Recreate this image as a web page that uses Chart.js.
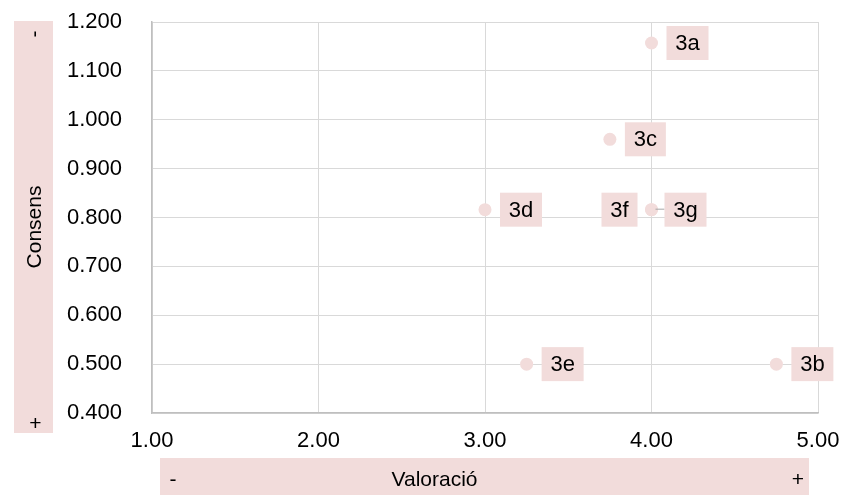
<!DOCTYPE html>
<html>
<head>
<meta charset="utf-8">
<script src="https://cdn.jsdelivr.net/npm/chart.js@4.4.1/dist/chart.umd.min.js"></script>
<style>
  html, body { margin: 0; padding: 0; background: #fff; }
  #wrap { width: 846px; height: 495px; }
</style>
</head>
<body>
<div id="wrap"><canvas id="chart" width="846" height="495"></canvas></div>
<script>
const labels = ['3a', '3b', '3c', '3d', '3e', '3f', '3g'];
const valoracio = [4.00, 4.75, 3.75, 3.00, 3.25, 4.00, 4.00];
const consens = [1.157, 0.500, 0.960, 0.816, 0.500, 0.816, 0.816];
const xTicks = [1, 2, 3, 4, 5];
const yTicks = [0.4, 0.5, 0.6, 0.7, 0.8, 0.9, 1.0, 1.1, 1.2];

const PINK = '#f2dcdb';
const FONT = '"Liberation Sans", Arial, sans-serif';
const FS = 22;
const TITLE_FS = 21;

// Excel moved 3f to the left of its point so it doesn't sit on 3g
const leftLabels = ['3f'];
const leaderLabels = ['3g'];

const axisTitles = {
  id: 'axisTitles',
  beforeDraw(chart) {
    const { ctx, chartArea: a } = chart;
    ctx.save();
    ctx.fillStyle = PINK;
    const yb = { x: 14, y: a.top - 1, w: 39, h: a.bottom + 20 - (a.top - 1) };
    ctx.fillRect(yb.x, yb.y, yb.w, yb.h);
    const xb = { x: a.left + 8, y: a.bottom + 45, w: a.right - 9 - (a.left + 8), h: chart.height - (a.bottom + 45) };
    ctx.fillRect(xb.x, xb.y, xb.w, xb.h);

    ctx.fillStyle = '#000';
    ctx.font = `${TITLE_FS}px ${FONT}`;
    ctx.textBaseline = 'middle';
    ctx.textAlign = 'center';
    const xcy = xb.y + xb.h / 2 + 4;
    ctx.fillText('-', xb.x + 13, xcy);
    ctx.fillText('Valoració', xb.x + xb.w / 2 - 50, xcy);
    ctx.fillText('+', xb.x + xb.w - 11, xcy);

    const ycx = yb.x + yb.w / 2 + 2;
    const rot = (txt, cy) => {
      ctx.save();
      ctx.translate(ycx, cy);
      ctx.rotate(-Math.PI / 2);
      ctx.fillText(txt, 0, 0);
      ctx.restore();
    };
    rot('-', yb.y + 13);
    rot('Consens', yb.y + yb.h / 2);
    ctx.fillText('+', ycx, yb.y + yb.h - 9);
    ctx.restore();
  }
};

const pointLabels = {
  id: 'pointLabels',
  afterDatasetsDraw(chart) {
    const { ctx } = chart;
    const meta = chart.getDatasetMeta(0);
    ctx.save();
    ctx.font = `${FS}px ${FONT}`;
    ctx.textBaseline = 'middle';
    ctx.textAlign = 'center';
    meta.data.forEach((pt, i) => {
      const txt = labels[i];
      const w = Math.round(ctx.measureText(txt).width) + 18;
      const h = 34;
      const left = leftLabels.includes(txt);
      const lead = leaderLabels.includes(txt);
      const gap = lead ? 13 : 15;
      const bx = left ? pt.x - gap - w + 1 : pt.x + gap;
      const by = pt.y - h / 2;
      if (lead) {
        ctx.strokeStyle = '#a6a6a6';
        ctx.lineWidth = 1;
        ctx.beginPath();
        ctx.moveTo(pt.x + 4, pt.y - 0.5);
        ctx.lineTo(bx, pt.y - 0.5);
        ctx.stroke();
      }
      ctx.fillStyle = PINK;
      ctx.fillRect(bx, by, w, h);
      ctx.fillStyle = '#000';
      ctx.fillText(txt, bx + w / 2, by + h / 2 + 1);
    });
    ctx.restore();
  }
};

new Chart(document.getElementById('chart'), {
  type: 'scatter',
  data: {
    datasets: [{
      data: labels.map((l, i) => ({ x: valoracio[i], y: consens[i] })),
      backgroundColor: PINK,
      borderWidth: 0,
      pointRadius: 6.5,
      pointHoverRadius: 6.5
    }]
  },
  options: {
    responsive: false,
    animation: false,
    layout: { padding: { left: 0, right: 28, top: 22, bottom: 0 } },
    plugins: { legend: { display: false }, tooltip: { enabled: false } },
    scales: {
      x: {
        type: 'linear',
        min: 1,
        max: 5,
        afterBuildTicks: (s) => { s.ticks = xTicks.map((v) => ({ value: v })); },
        afterFit: (s) => { s.height = 82; s.paddingLeft = 0; s.paddingRight = 0; },
        grid: { color: '#d9d9d9', lineWidth: 1, drawTicks: false },
        border: { color: '#bfbfbf', width: 1.5 },
        ticks: {
          padding: 15,
          color: '#000',
          font: { family: FONT, size: FS },
          callback: (v) => Number(v).toFixed(2)
        }
      },
      y: {
        type: 'linear',
        min: 0.4,
        max: 1.2,
        afterBuildTicks: (s) => { s.ticks = yTicks.map((v) => ({ value: v })); },
        afterFit: (s) => { s.width = 152; s.paddingTop = 0; s.paddingBottom = 0; },
        grid: { color: '#d9d9d9', lineWidth: 1, drawTicks: false },
        border: { color: '#bfbfbf', width: 1.5 },
        ticks: {
          padding: 30,
          color: '#000',
          font: { family: FONT, size: FS },
          callback: (v) => Number(v).toFixed(3)
        }
      }
    }
  },
  plugins: [axisTitles, pointLabels]
});
</script>
</body>
</html>
